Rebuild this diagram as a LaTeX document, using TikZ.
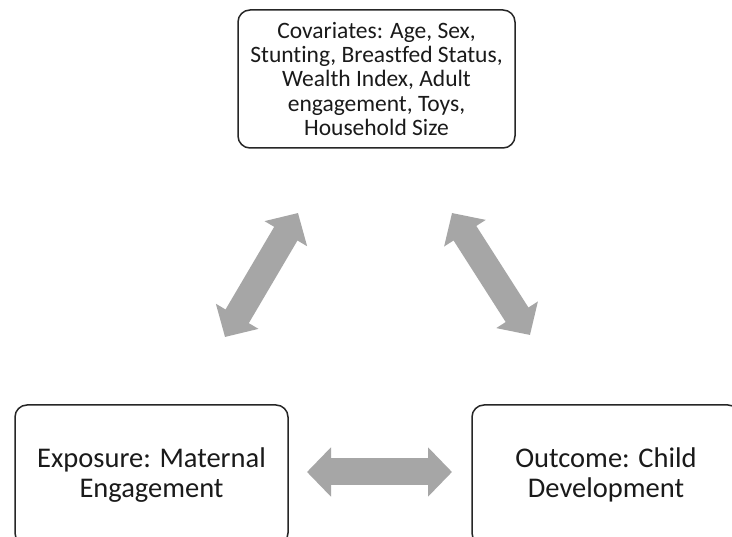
\documentclass[tikz,border=0pt]{standalone}
\usepackage{fontspec}
\setmainfont{Carlito}[Ligatures=NoCommon]
\usetikzlibrary{arrows.meta}
\definecolor{arrowgray}{HTML}{A6A6A6}
\definecolor{txtcol}{HTML}{1A1A1A}
\tikzset{
  box/.style={draw=black!85, line width=1.5pt, rounded corners=12pt, fill=white,
    align=center, text=txtcol, inner sep=0pt},
  bigarrow/.style={draw=arrowgray, line width=27pt,
    {Triangle[length=24pt,width=48pt]}-{Triangle[length=24pt,width=48pt]}}
}
\begin{document}
\begin{tikzpicture}[x=1pt,y=-1pt]
\clip (0,0) rectangle (732,537);
\fill[white] (0,0) rectangle (732,537);
\node[box, minimum width=277pt, minimum height=138pt,
  font=\fontsize{23.5}{24.3}\selectfont] (cov) at (376.5,79)
  {Covariates: Age, Sex,\\Stunting, Breastfed Status,\\Wealth Index, Adult\\engagement, Toys,\\Household Size};
\node[box, minimum width=273pt, minimum height=140pt,
  font=\fontsize{28.5}{30}\selectfont] (exp) at (151.5,475)
  {Exposure: Maternal\\Engagement};
\node[box, minimum width=268pt, minimum height=140pt,
  font=\fontsize{28.5}{30}\selectfont] (out) at (606,475)
  {Outcome: Child\\Development};
\coordinate (l1) at (225,337);
\coordinate (l2) at (298,213);
\coordinate (r1) at (452,213);
\coordinate (r2) at (530,335);
\coordinate (h1) at (307,472);
\coordinate (h2) at (452,472);
\draw[bigarrow] (l1) -- (l2);
\draw[bigarrow] (r1) -- (r2);
\draw[bigarrow] (h1) -- (h2);
\end{tikzpicture}
\end{document}
